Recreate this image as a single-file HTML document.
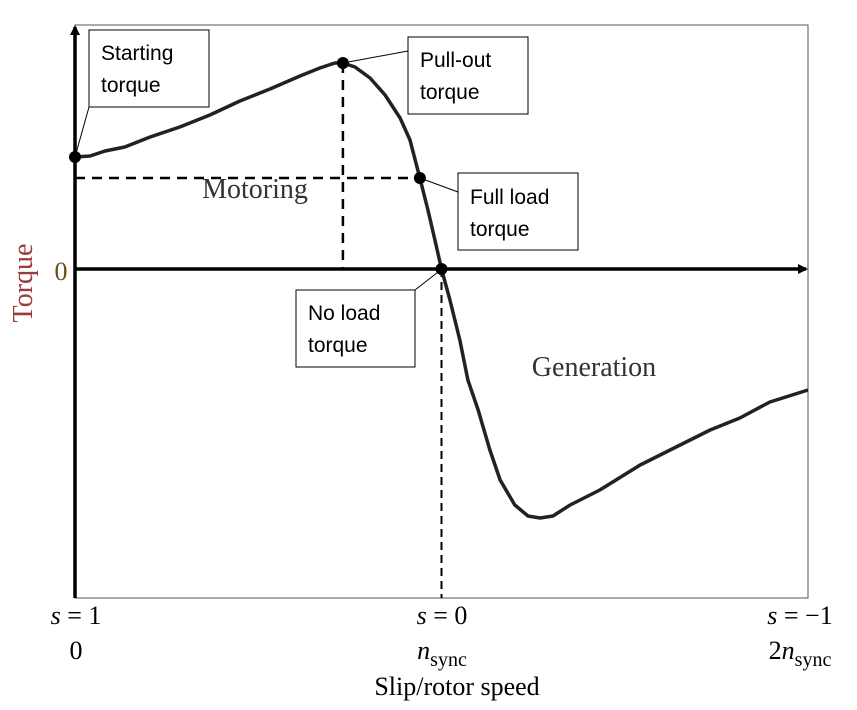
<!DOCTYPE html>
<html><head><meta charset="utf-8"><style>
body{margin:0;background:#fff;}
svg{display:block;}
.serif{font-family:"Liberation Serif",serif;}
.box{font-family:"Liberation Sans",sans-serif;font-size:21px;fill:#000;}
</style></head><body>
<svg width="857" height="710" viewBox="0 0 857 710">
<defs><marker id="ar" markerWidth="10" markerHeight="10" refX="8" refY="5" orient="auto" markerUnits="userSpaceOnUse"><path d="M0,0 L10,5 L0,10 z" fill="#000"/></marker></defs>
<rect x="75" y="25" width="733" height="573" fill="none" stroke="#555" stroke-width="1"/>
<g id="marks"></g>
<line x1="75" y1="269" x2="806" y2="269" stroke="#000" stroke-width="3.5" marker-end="url(#ar)"/>
<line x1="75" y1="598" x2="75" y2="27" stroke="#000" stroke-width="3.5" marker-end="url(#ar)"/>
<text x="61" y="280" class="serif" font-size="26" fill="#6a4a20" text-anchor="middle">0</text>
<text transform="translate(32,283) rotate(-90)" class="serif" font-size="28" fill="#9b3a3a" text-anchor="middle">Torque</text>
<text x="255" y="198" class="serif" font-size="28" fill="#333" text-anchor="middle">Motoring</text>
<text x="594" y="376" class="serif" font-size="28" fill="#333" text-anchor="middle">Generation</text>
<g class="serif" font-size="26" fill="#000" text-anchor="middle">
<text x="76" y="624" font-style="italic">s <tspan font-style="normal">= 1</tspan></text>
<text x="76" y="659">0</text>
<text x="442" y="624" font-style="italic">s <tspan font-style="normal">= 0</tspan></text>
<text x="442" y="659"><tspan font-style="italic">n</tspan><tspan font-size="20" dy="7">sync</tspan></text>
<text x="800" y="624" font-style="italic">s <tspan font-style="normal">= −1</tspan></text>
<text x="800" y="659">2<tspan font-style="italic">n</tspan><tspan font-size="20" dy="7">sync</tspan></text>
<text x="457" y="695">Slip/rotor speed</text>
</g>
<g>
<line x1="75" y1="157" x2="89" y2="107" stroke="#000" stroke-width="1"/>
<rect x="89" y="30" width="120" height="77" fill="#fff" stroke="#000" stroke-width="1"/>
<text x="101" y="60" class="box">Starting</text><text x="101" y="92" class="box">torque</text></g>
<g>
<line x1="343" y1="63" x2="408" y2="51" stroke="#000" stroke-width="1"/>
<rect x="408" y="37" width="120" height="77" fill="#fff" stroke="#000" stroke-width="1"/>
<text x="420" y="67" class="box">Pull-out</text><text x="420" y="99" class="box">torque</text></g>
<g>
<line x1="420" y1="178" x2="458" y2="192" stroke="#000" stroke-width="1"/>
<rect x="458" y="173" width="120" height="77" fill="#fff" stroke="#000" stroke-width="1"/>
<text x="470" y="204" class="box">Full load</text><text x="470" y="236" class="box">torque</text></g>
<g>
<line x1="442" y1="269" x2="415" y2="290" stroke="#000" stroke-width="1"/>
<rect x="296" y="290" width="119" height="77" fill="#fff" stroke="#000" stroke-width="1"/>
<text x="308" y="320" class="box">No load</text><text x="308" y="352" class="box">torque</text></g>
</svg>
<script>
const speed=[0,0.041,0.082,0.136,0.205,0.286,0.368,0.45,0.532,0.614,0.668,0.709,0.731,0.764,0.805,0.846,0.887,0.914,0.941,0.963,0.982,1.0,1.023,1.05,1.072,1.1,1.132,1.16,1.2,1.236,1.269,1.304,1.351,1.432,1.542,1.651,1.733,1.814,1.896,2.0];
const torque=[1.12,1.13,1.18,1.22,1.32,1.42,1.54,1.68,1.8,1.93,2.01,2.06,2.06,2.02,1.91,1.74,1.51,1.29,0.91,0.59,0.29,0,-0.31,-0.71,-1.11,-1.41,-1.81,-2.11,-2.36,-2.47,-2.49,-2.47,-2.36,-2.21,-1.96,-1.76,-1.61,-1.49,-1.33,-1.21];
const pts={start:[0,1.12],pullout:[0.731,2.06],fullload:[0.941,0.91],noload:[1.0,0]};
const X=v=>75+v*366.5, Y=v=>269-v*100;
const g=document.getElementById('marks'),NS='http://www.w3.org/2000/svg';
function mk(t,a){const e=document.createElementNS(NS,t);for(const k in a)e.setAttribute(k,a[k]);g.appendChild(e);return e;}
let l=mk('line',{x1:X(0),y1:Y(pts.fullload[1]),x2:X(pts.fullload[0]),y2:Y(pts.fullload[1]),stroke:'#000','stroke-width':2.5,'stroke-dasharray':'10,7'});


l=mk('line',{x1:X(pts.pullout[0]),y1:Y(pts.pullout[1]),x2:X(pts.pullout[0]),y2:Y(0),stroke:'#000','stroke-width':2.5,'stroke-dasharray':'10,7'});


l=mk('line',{x1:X(pts.noload[0]),y1:Y(0),x2:X(pts.noload[0]),y2:598,stroke:'#000','stroke-width':2,'stroke-dasharray':'8,5'});


const p=mk('path',{d:speed.map((s,i)=>(i?'L':'M')+X(s)+','+Y(torque[i])).join(''),fill:'none',stroke:'#222','stroke-width':3.5,'stroke-linejoin':'round'});


for(const k in pts){const c=mk('circle',{cx:X(pts[k][0]),cy:Y(pts[k][1]),r:6,fill:'#000'});

}
</script>
</body></html>
